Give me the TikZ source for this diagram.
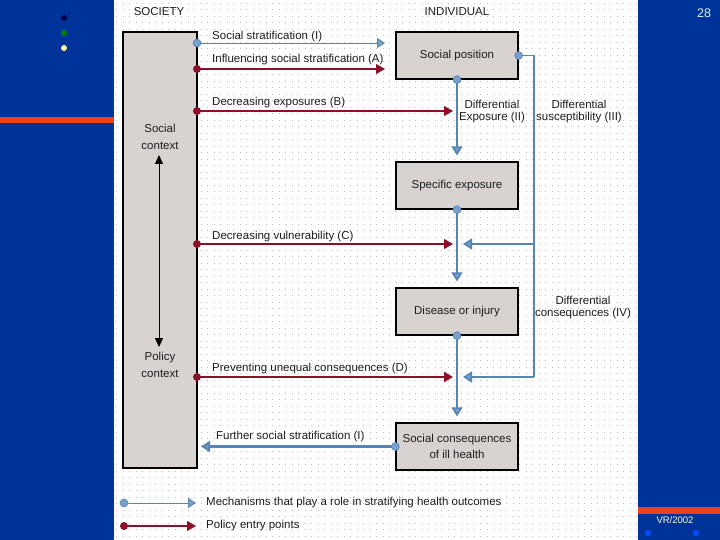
\documentclass[tikz,border=0pt]{standalone}
\usepackage{fontspec}
\setmainfont{Liberation Sans}
\usetikzlibrary{arrows.meta}
\definecolor{bgblue}{RGB}{0,51,153}
\definecolor{stripe}{RGB}{240,64,24}
\definecolor{mblue}{RGB}{88,134,180}
\definecolor{lblue}{RGB}{120,160,205}
\definecolor{mred}{RGB}{140,16,40}
\definecolor{boxg}{RGB}{216,211,209}
\definecolor{gridc}{RGB}{190,190,200}
\definecolor{txt}{RGB}{30,30,30}
\begin{document}
\begin{tikzpicture}[x=1pt,y=-1pt,
  lbl/.style={font=\fontsize{11.5}{17}\selectfont, inner sep=0pt, text=txt, align=center},
  box/.style={draw=black, line width=1.3pt, fill=boxg, minimum width=122pt, minimum height=47pt, align=center, font=\fontsize{11.5}{16}\selectfont, text=txt},
  bl/.style={draw=mblue, line width=1.8pt, -{Triangle[length=9pt,width=11pt,fill=lblue]}},
  blthin/.style={draw=mblue, line width=0.9pt, -{Triangle[length=8pt,width=10pt,fill=lblue]}},
  rl/.style={draw=mred, line width=1.2pt, -{Triangle[length=9pt,width=10pt,fill=mred]}},
  bdot/.style={fill=lblue, draw=mblue, line width=0.6pt},
  rdot/.style={fill=mred}]
\useasboundingbox (0,0) rectangle (720,540);
% background
\fill[bgblue] (0,0) rectangle (720,540);
\fill[white] (114,0) rectangle (638,540);
\foreach \y in {3,9.5,...,540}
  \draw[gridc, line width=0.9pt, dash pattern=on 0.9pt off 5.6pt] (116,\y) -- (638,\y);
\fill[stripe] (0,117) rectangle (114,123);
\fill[stripe] (638,507) rectangle (720,514);
\fill[black!70!blue] (64,18) circle (3pt);
\fill[green!50!black] (64,33) circle (3pt);
\fill[yellow!40] (64,48) circle (3pt);
\fill[blue!70!cyan] (648,533) circle (3pt);
\fill[blue!70!cyan] (696,533) circle (3pt);
\node[font=\fontsize{12.5}{14}\selectfont, text=cyan!15] (pg) at (704,13) {28};
\node[font=\fontsize{9.5}{11}\selectfont, text=yellow!15!white] (vr) at (675,520) {VR/2002};

% headers
\node[lbl] (hs) at (159,12) {SOCIETY};
\node[lbl] (hi) at (457,12) {INDIVIDUAL};

% boxes
\node[box, minimum width=74pt, minimum height=436pt] (soc) at (160,250) {};
\node[lbl] (sctx) at (160,137) {Social\\context};
\node[lbl] (pctx) at (160,365) {Policy\\context};
\node[box] (sp) at (457,55.5) {Social position};
\node[box] (se) at (457,185.5) {Specific exposure};
\node[box] (di) at (457,311.5) {Disease or injury};
\node[box] (sc) at (457,446.5) {Social consequences\\of ill health};

% double arrow
\coordinate (dt) at (159,155);
\coordinate (db) at (159,347);
\draw[line width=1pt, {Triangle[length=9pt,width=8pt]}-{Triangle[length=9pt,width=8pt]}] (dt) -- (db);

% coordinates
\coordinate (a0) at (197,43);  \coordinate (a1) at (385,43);
\coordinate (b0) at (197,69);  \coordinate (b1) at (385,69);
\coordinate (c0) at (197,111); \coordinate (c1) at (453,111);
\coordinate (d0) at (197,244); \coordinate (d1) at (453,244);
\coordinate (e0) at (197,377); \coordinate (e1) at (453,377);
\coordinate (r0) at (534,55.5);
\coordinate (r1) at (534,244); \coordinate (r1e) at (463,244);
\coordinate (r2) at (534,377); \coordinate (r2e) at (463,377);
\coordinate (f1) at (201,446.5);

% mechanisms (blue)
\draw[blthin] (a0) -- (a1);
\fill[bdot] (a0) circle (4pt);
\draw[bl, shorten >=6pt] (sp.south) -- (se.north);
\draw[bl, shorten >=6pt] (se.south) -- (di.north);
\draw[bl, shorten >=6pt] (di.south) -- (sc.north);
\draw[mblue, line width=1.8pt] (sp.east) -- (r0) -- (r2);
\draw[bl] (r2) -- (r2e);
\draw[bl] (r1) -- (r1e);
\draw[bl, line width=2.4pt] (sc.west) -- (f1);
\fill[bdot] (sp.south) circle (4pt);
\fill[bdot] (se.south) circle (4pt);
\fill[bdot] (di.south) circle (4pt);
\fill[bdot] (sp.east) circle (4pt);
\fill[bdot] (sc.west) circle (4pt);

% policy entry points (red)
\draw[rl] (b0) -- (b1);
\draw[rl] (c0) -- (c1);
\draw[rl] (d0) -- (d1);
\draw[rl, line width=2pt] (e0) -- (e1);
\foreach \p in {b0,c0,d0,e0} \fill[rdot] (\p) circle (4pt);

% labels
\node[lbl, anchor=west] (la) at (212,37) {Social stratification (I)};
\node[lbl, anchor=west] (lb) at (212,60) {Influencing social stratification (A)};
\node[lbl, anchor=west] (lc) at (212,103) {Decreasing exposures (B)};
\node[lbl, anchor=west] (ld) at (212,237) {Decreasing vulnerability (C)};
\node[lbl, anchor=west] (le) at (212,369) {Preventing unequal consequences (D)};
\node[lbl, anchor=west] (lf) at (216,437) {Further social stratification (I)};
\node[lbl, font=\fontsize{11.5}{12}\selectfont] (lII) at (492,112) {Differential\\Exposure (II)};
\node[lbl, font=\fontsize{11.5}{12}\selectfont] (lIII) at (579,112) {Differential\\susceptibility (III)};
\node[lbl, font=\fontsize{11.5}{12}\selectfont] (lIV) at (583,308) {Differential\\consequences (IV)};

% legend
\coordinate (g0) at (124,503); \coordinate (g1) at (196,503);
\coordinate (h0) at (124,526); \coordinate (h1) at (196,526);
\draw[blthin] (g0) -- (g1);
\fill[bdot] (g0) circle (4pt);
\draw[rl] (h0) -- (h1);
\fill[rdot] (h0) circle (4pt);
\node[lbl, anchor=west] (lg) at (206,503) {Mechanisms that play a role in stratifying health outcomes};
\node[lbl, anchor=west] (lh) at (206,526) {Policy entry points};
\end{tikzpicture}
\end{document}
